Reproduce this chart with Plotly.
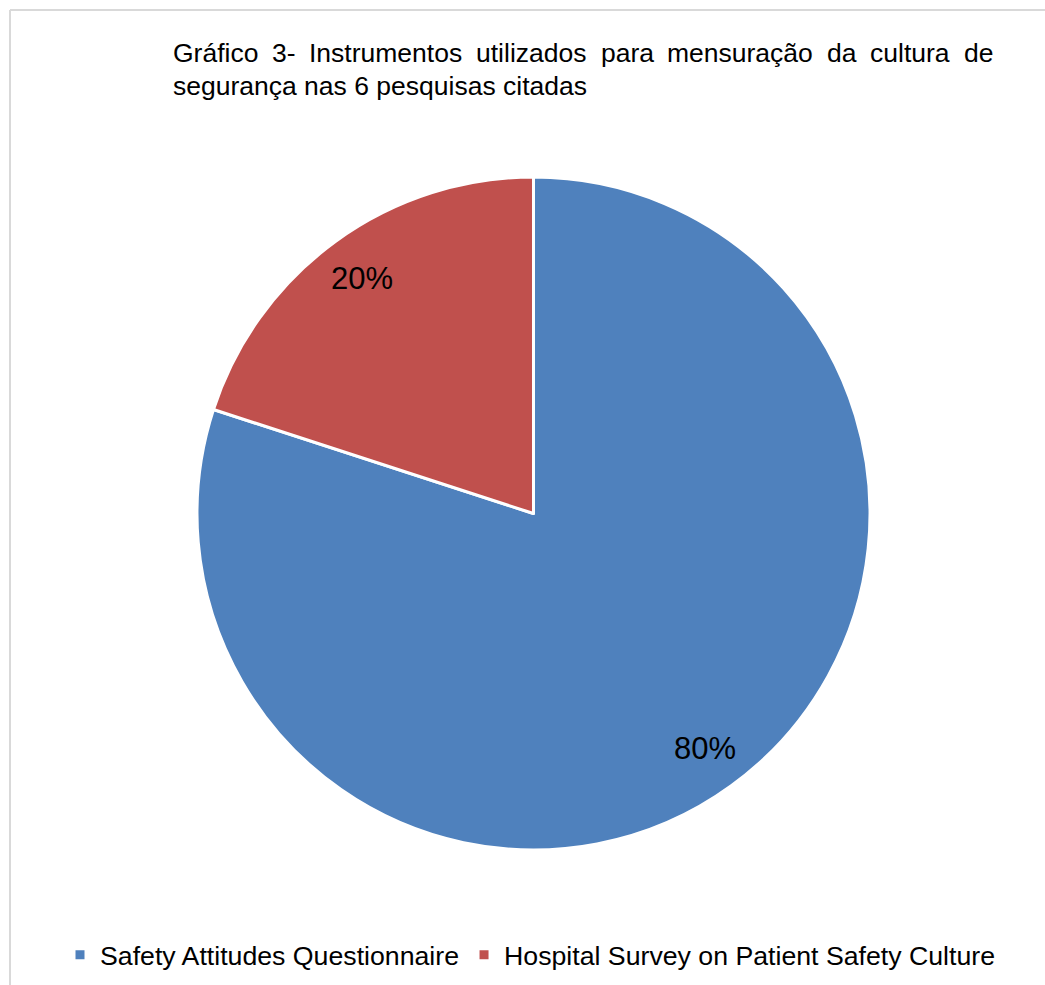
import math
import plotly.graph_objects as go

# Chart data
labels = ["Safety Attitudes Questionnaire", "Hospital Survey on Patient Safety Culture"]
values = [80, 20]
colors = ["#4F81BD", "#C0504D"]

title_line1 = "Gráfico 3- Instrumentos utilizados para mensuração da cultura de"
title_line2 = "segurança nas 6 pesquisas citadas"

W, H = 1045, 985
FONT = "Liberation Sans, Arial, sans-serif"
TITLE_SIZE = 26.5

# Arial advance widths (1/1000 em) for justifying the first title line
ARIAL_W = {
    "G": 778, "r": 333, "á": 556, "f": 278, "i": 222, "c": 500, "o": 556,
    "3": 556, "-": 333, "I": 278, "n": 556, "s": 500, "t": 278, "u": 556,
    "m": 833, "e": 556, "l": 222, "z": 500, "a": 556, "d": 556, "p": 556,
    "ç": 500, "ã": 556,
}


def word_width(word, size):
    return sum(ARIAL_W.get(ch, 556) for ch in word) / 1000.0 * size


def px_x(x):
    return x / W


def px_y(y):
    return 1 - y / H


# Pie placement (pixels)
pie_left, pie_right, pie_top, pie_bottom = 197, 870, 177, 850
dom_x = [px_x(pie_left), px_x(pie_right)]
dom_y = [px_y(pie_bottom), px_y(pie_top)]

total = sum(values)
pct_text = [f"{round(v / total * 100)}%" for v in values]

fig = go.Figure(
    go.Pie(
        labels=labels,
        values=values,
        sort=False,
        direction="clockwise",
        rotation=0,
        marker=dict(colors=colors, line=dict(color="white", width=3)),
        textinfo="none",
        hoverinfo="label+percent",
        domain=dict(x=dom_x, y=dom_y),
    )
)

annotations = []

# Percentage labels along each slice bisector
cx = (pie_left + pie_right) / 2
cy = (pie_top + pie_bottom) / 2
R = (pie_right - pie_left) / 2
cum = 0.0
for v, txt in zip(values, pct_text):
    theta = 2 * math.pi * (cum + v / 2) / total
    cum += v
    lx = cx + 0.865 * R * math.sin(theta)
    ly = cy - 0.865 * R * math.cos(theta)
    annotations.append(dict(
        x=px_x(lx), y=px_y(ly), xref="paper", yref="paper",
        text=txt, showarrow=False, xanchor="center", yanchor="middle",
        font=dict(family=FONT, size=31, color="#000000"),
    ))

# Justified first title line
t_left, t_right = 173, 993
words = title_line1.split(" ")
widths = [word_width(w, TITLE_SIZE) for w in words]
gap = (t_right - t_left - sum(widths)) / (len(words) - 1)
xpos = t_left
for w, ww in zip(words, widths):
    annotations.append(dict(
        x=px_x(xpos), y=px_y(53), xref="paper", yref="paper",
        text=w, showarrow=False, xanchor="left", yanchor="middle",
        xshift=-2,
        font=dict(family=FONT, size=TITLE_SIZE, color="#000000"),
    ))
    xpos += ww + gap

annotations.append(dict(
    x=px_x(t_left), y=px_y(86), xref="paper", yref="paper",
    text=title_line2, showarrow=False, xanchor="left", yanchor="middle",
    xshift=-2,
    font=dict(family=FONT, size=TITLE_SIZE, color="#000000"),
))

# Chart-area frame edges (top and left)
shapes = [
    dict(type="line", xref="paper", yref="paper",
         x0=px_x(10), x1=1.02, y0=px_y(10), y1=px_y(10),
         line=dict(color="#D9D9D9", width=2)),
    dict(type="line", xref="paper", yref="paper",
         x0=px_x(10), x1=px_x(10), y0=px_y(10), y1=-0.02,
         line=dict(color="#D9D9D9", width=2)),
]

fig.update_layout(
    width=W, height=H,
    margin=dict(l=0, r=0, t=0, b=0),
    paper_bgcolor="white",
    plot_bgcolor="white",
    showlegend=True,
    legend=dict(
        orientation="h",
        x=px_x(60), xanchor="left",
        y=px_y(955), yanchor="middle",
        font=dict(family=FONT, size=26.7, color="#000000"),
        bgcolor="rgba(0,0,0,0)",
        itemclick=False, itemdoubleclick=False,
    ),
    annotations=annotations,
    shapes=shapes,
)

fig.write_html("out.html")
